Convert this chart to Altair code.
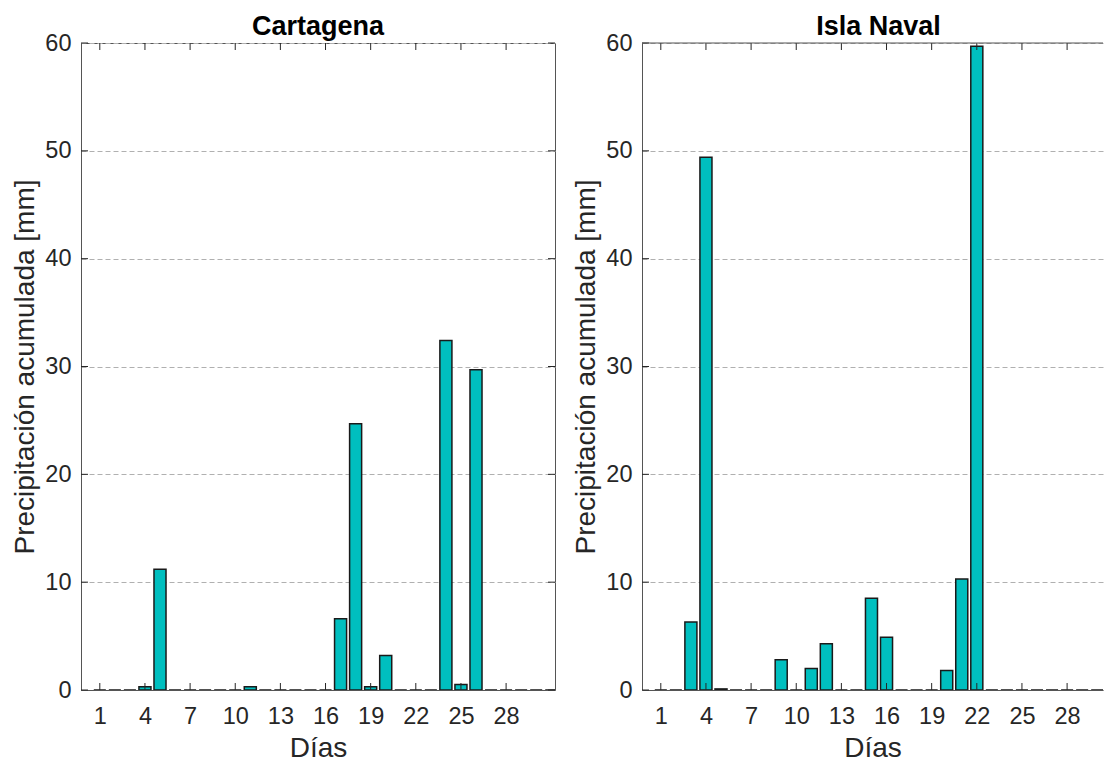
import altair as alt
import pandas as pd

# Daily accumulated precipitation (mm) for days 1..31
days = list(range(1, 32))
cartagena = [0, 0, 0, 0.3, 11.2, 0, 0, 0, 0, 0,
             0.3, 0, 0, 0, 0, 0, 6.6, 24.7, 0.3, 3.2,
             0, 0, 0, 32.4, 0.5, 29.7, 0, 0, 0, 0, 0]
isla_naval = [0, 0, 6.3, 49.4, 0.1, 0, 0, 0, 2.8, 0,
              2.0, 4.3, 0, 0, 8.5, 4.9, 0, 0, 0, 1.8,
              10.3, 59.7, 0, 0, 0, 0, 0, 0, 0, 0, 0]

x_ticks = list(range(1, 31, 3))
y_ticks = list(range(0, 61, 10))

FONT = "Liberation Sans"
AXIS_COLOR = "#555555"
TEXT_COLOR = "#262626"
BAR_FILL = "#00BFBF"
BAR_EDGE = "#1a1a1a"
HEIGHT = 647
PX_PER_DAY = 474 / 31.5
TICK_LEN = 7
X_TITLE = "Días"
Y_TITLE = "Precipitación acumulada [mm]"


def panel(values, name, width, right_box, title_dx):
    x_max = -0.25 + width / PX_PER_DAY
    x_scale = alt.Scale(domain=[-0.25, x_max], nice=False, zero=False)
    y_scale = alt.Scale(domain=[0, 60], nice=False)
    x_axis = alt.Axis(values=x_ticks, ticks=False, grid=False,
                      labelPadding=14, titlePadding=7)
    y_axis = alt.Axis(values=y_ticks, ticks=False, grid=True,
                      gridDash=[5, 3], gridColor="#b0b0b0",
                      labelPadding=10, titlePadding=5)

    df = pd.DataFrame({"dia": days, "mm": values})
    bars = (
        alt.Chart(df)
        .transform_calculate(x0="datum.dia - 0.4", x1="datum.dia + 0.4")
        .mark_bar(fill=BAR_FILL, stroke=BAR_EDGE, strokeWidth=1.5, clip=True)
        .encode(
            x=alt.X("x0:Q", scale=x_scale, title=X_TITLE, axis=x_axis),
            x2="x1:Q",
            y=alt.Y("mm:Q", scale=y_scale, title=Y_TITLE, axis=y_axis),
            y2=alt.datum(0),
        )
    )

    xt = pd.DataFrame({"t": x_ticks})
    yt = pd.DataFrame({"t": y_ticks})
    tick_style = dict(color=TEXT_COLOR, strokeWidth=1)

    bottom_ticks = alt.Chart(xt).mark_rule(**tick_style).encode(
        x=alt.X("t:Q", scale=x_scale, title=X_TITLE, axis=x_axis),
        y=alt.value(HEIGHT), y2=alt.value(HEIGHT - TICK_LEN))
    top_ticks = alt.Chart(xt).mark_rule(**tick_style).encode(
        x=alt.X("t:Q", scale=x_scale, title=X_TITLE, axis=x_axis),
        y=alt.value(0), y2=alt.value(TICK_LEN))
    left_ticks = alt.Chart(yt).mark_rule(**tick_style).encode(
        y=alt.Y("t:Q", scale=y_scale, title=Y_TITLE, axis=y_axis),
        x=alt.value(0), x2=alt.value(TICK_LEN))

    layers = [bars, bottom_ticks, top_ticks, left_ticks]
    if right_box:
        right_ticks = alt.Chart(yt).mark_rule(**tick_style).encode(
            y=alt.Y("t:Q", scale=y_scale, title=Y_TITLE, axis=y_axis),
            x=alt.value(width - TICK_LEN), x2=alt.value(width))
        layers.append(right_ticks)
        view = alt.ViewBackground(stroke=AXIS_COLOR, strokeWidth=1)
    else:
        top_edge = alt.Chart(pd.DataFrame({"t": [0]})).mark_rule(
            color=AXIS_COLOR, strokeWidth=1).encode(
            x=alt.value(0), x2=alt.value(width), y=alt.value(0))
        layers.append(top_edge)
        view = alt.ViewBackground(stroke="transparent")

    return alt.layer(*layers).properties(
        width=width,
        height=HEIGHT,
        view=view,
        title=alt.TitleParams(text=name, font=FONT, fontSize=27,
                              fontWeight="bold", color="black",
                              anchor="middle", frame="group",
                              offset=-10, dx=title_dx),
    )


left = panel(cartagena, "Cartagena", 474, True, 0)
right = panel(isla_naval, "Isla Naval", 461, False, 6)

chart = (
    alt.hconcat(left, right, spacing=16)
    .properties(padding={"left": 11, "top": 12, "right": 0, "bottom": 0})
    .configure_axis(
        labelFont=FONT, labelFontSize=23.5, labelColor=TEXT_COLOR,
        titleFont=FONT, titleFontSize=28, titleFontWeight="normal",
        titleColor=TEXT_COLOR, domainColor=AXIS_COLOR, domainWidth=1,
    )
    .configure_view(stroke=AXIS_COLOR)
)

chart.save("out.html", embed_options={"renderer": "svg", "actions": False})
